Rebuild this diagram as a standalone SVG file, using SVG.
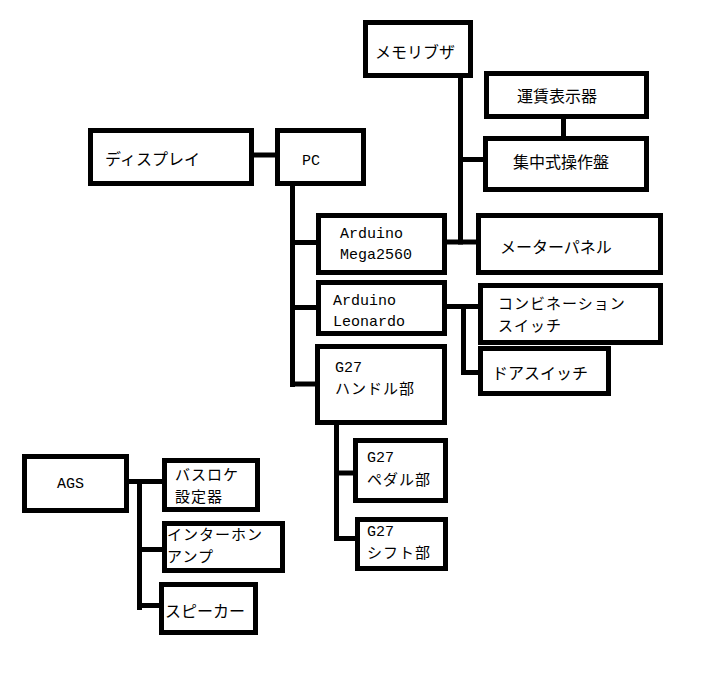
<svg xmlns="http://www.w3.org/2000/svg" width="702" height="692" viewBox="0 0 702 692">
<style>
.box{fill:#fff;stroke:#000;stroke-width:5}
.ln{fill:none;stroke:#000;stroke-width:5}
.t{font-family:"Noto Sans CJK JP","Noto Sans CJK SC",sans-serif;font-size:16px;fill:#000}
.s{font-family:"Noto Sans CJK JP","Noto Sans CJK SC",sans-serif;font-size:15px;letter-spacing:1px;fill:#000}
.m{font-family:"Liberation Mono","DejaVu Sans Mono",monospace;font-size:15px;fill:#000}
</style>
<rect width="702" height="692" fill="#fff"/>
<g id="connectors">
<path class="ln" d="M254,155H275"/>
<path class="ln" d="M292.5,186V387"/>
<path class="ln" d="M290,242.5H316"/>
<path class="ln" d="M290,307.5H316"/>
<path class="ln" d="M290,384H315"/>
<path class="ln" d="M460.5,78V244.5"/>
<path class="ln" d="M460,159.5H483"/>
<path class="ln" d="M563.5,119V136"/>
<path class="ln" d="M447,242H476"/>
<path class="ln" d="M447,306.5H478"/>
<path class="ln" d="M463.5,304V375"/>
<path class="ln" d="M463,372.5H478"/>
<path class="ln" d="M336.5,425V541"/>
<path class="ln" d="M334,473H353"/>
<path class="ln" d="M334,538.5H355"/>
<path class="ln" d="M129,481.5H162"/>
<path class="ln" d="M139.5,479V610"/>
<path class="ln" d="M137,549.5H162"/>
<path class="ln" d="M137,605.5H159"/>
</g>
<g id="display"><rect class="box" x="90.5" y="130.5" width="161" height="53"/><text class="t" x="105" y="165">ディスプレイ</text></g>
<g id="pc"><rect class="box" x="277.5" y="130.5" width="86" height="53"/><text class="m" x="302" y="165">PC</text></g>
<g id="memory-buzzer"><rect class="box" x="365.5" y="22.5" width="105" height="53"/><text class="t" x="375" y="58">メモリブザ</text></g>
<g id="fare-display"><rect class="box" x="486.5" y="73.5" width="160" height="43"/><text class="t" x="517" y="102">運賃表示器</text></g>
<g id="central-panel"><rect class="box" x="485.5" y="138.5" width="161" height="51"/><text class="t" x="513" y="168">集中式操作盤</text></g>
<g id="arduino-mega"><rect class="box" x="318.5" y="215.5" width="126" height="57"/><text class="m" x="340" y="238">Arduino</text><text class="m" x="340" y="259">Mega2560</text></g>
<g id="meter-panel"><rect class="box" x="478.5" y="215.5" width="182" height="57"/><text class="t" x="500" y="253">メーターパネル</text></g>
<g id="arduino-leonardo"><rect class="box" x="318.5" y="282.5" width="126" height="51"/><text class="m" x="333" y="305">Arduino</text><text class="m" x="333" y="326">Leonardo</text></g>
<g id="combination-switch"><rect class="box" x="480.5" y="285.5" width="180" height="57"/><text class="s" x="498" y="309">コンビネーション</text><text class="s" x="498" y="331">スイッチ</text></g>
<g id="door-switch"><rect class="box" x="480.5" y="348.5" width="128" height="45"/><text class="t" x="492" y="379">ドアスイッチ</text></g>
<g id="g27-handle"><rect class="box" x="317.5" y="346.5" width="127" height="76"/><text class="m" x="335" y="372">G27</text><text class="s" x="335" y="394">ハンドル部</text></g>
<g id="g27-pedal"><rect class="box" x="355.5" y="440.5" width="90" height="60"/><text class="m" x="367" y="462">G27</text><text class="s" x="367" y="485">ペダル部</text></g>
<g id="g27-shift"><rect class="box" x="357.5" y="519.5" width="88" height="49"/><text class="m" x="367" y="536">G27</text><text class="s" x="367" y="558">シフト部</text></g>
<g id="ags"><rect class="box" x="24.5" y="456.5" width="102" height="54"/><text class="m" x="57" y="488">AGS</text></g>
<g id="busloc"><rect class="box" x="164.5" y="460.5" width="93" height="49"/><text class="s" x="175" y="480">バスロケ</text><text class="s" x="175" y="502">設定器</text></g>
<g id="intercom"><rect class="box" x="164.5" y="523.5" width="118" height="47"/><text class="s" x="167" y="540">インターホン</text><text class="s" x="167" y="562">アンプ</text></g>
<g id="speaker"><rect class="box" x="161.5" y="584.5" width="94" height="48"/><text class="t" x="165" y="617">スピーカー</text></g>
</svg>
